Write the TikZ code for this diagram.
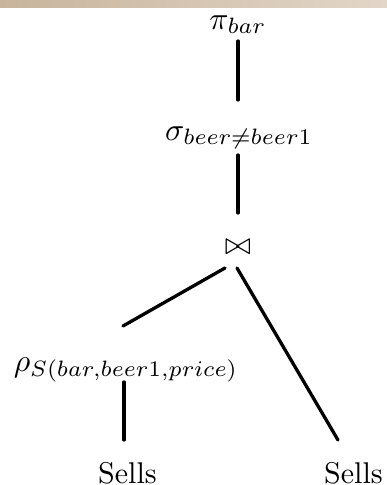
\documentclass[tikz,border=0pt]{standalone}
\usepackage{graphicx}
\usetikzlibrary{calc}
\definecolor{barleft}{RGB}{200,180,156}
\definecolor{barright}{RGB}{226,214,200}
\begin{document}
\begin{tikzpicture}[x=0.3333pt,y=-0.3333pt,
  edge/.style={line width=1.1pt,line cap=round},
  lbl/.style={inner sep=0pt,anchor=base}]
\useasboundingbox (0,0) rectangle (387,485);
\shade[left color=barleft,right color=barright] (0,0) rectangle (387,7);
\node[lbl] (pi) at (238,29) {\scalebox{1.06}{$\pi_{bar}$}};
\node[lbl] (sigma) at (239,140) {\scalebox{1.06}{$\sigma_{beer\neq beer1}$}};
\node[inner sep=0pt] (join) at (238,247) {\scalebox{1.04}{$\bowtie$}};
\node[lbl] (rho) at (126,371) {\scalebox{1.06}{$\rho_{S(bar,beer1,price)}$}};
\node[lbl] (sells1) at (127.5,483) {Sells};
\node[lbl] (sells2) at (353.5,483) {Sells};
\draw[edge] ($(pi.base)+(0,12)$) -- ($(sigma.base)+(-1,-40)$);
\draw[edge] ($(sigma.base)+(-1,15)$) -- ($(join.center)+(0,-34)$);
\draw[edge] ($(join.center)+(-13,21)$) -- ($(rho.base)+(-3,-45)$);
\draw[edge] ($(join.center)+(-1,21)$) -- ($(sells2.base)+(-15.5,-43)$);
\draw[edge] ($(rho.base)+(-2,11)$) -- ($(sells1.base)+(-3.5,-43)$);
\end{tikzpicture}
\end{document}
